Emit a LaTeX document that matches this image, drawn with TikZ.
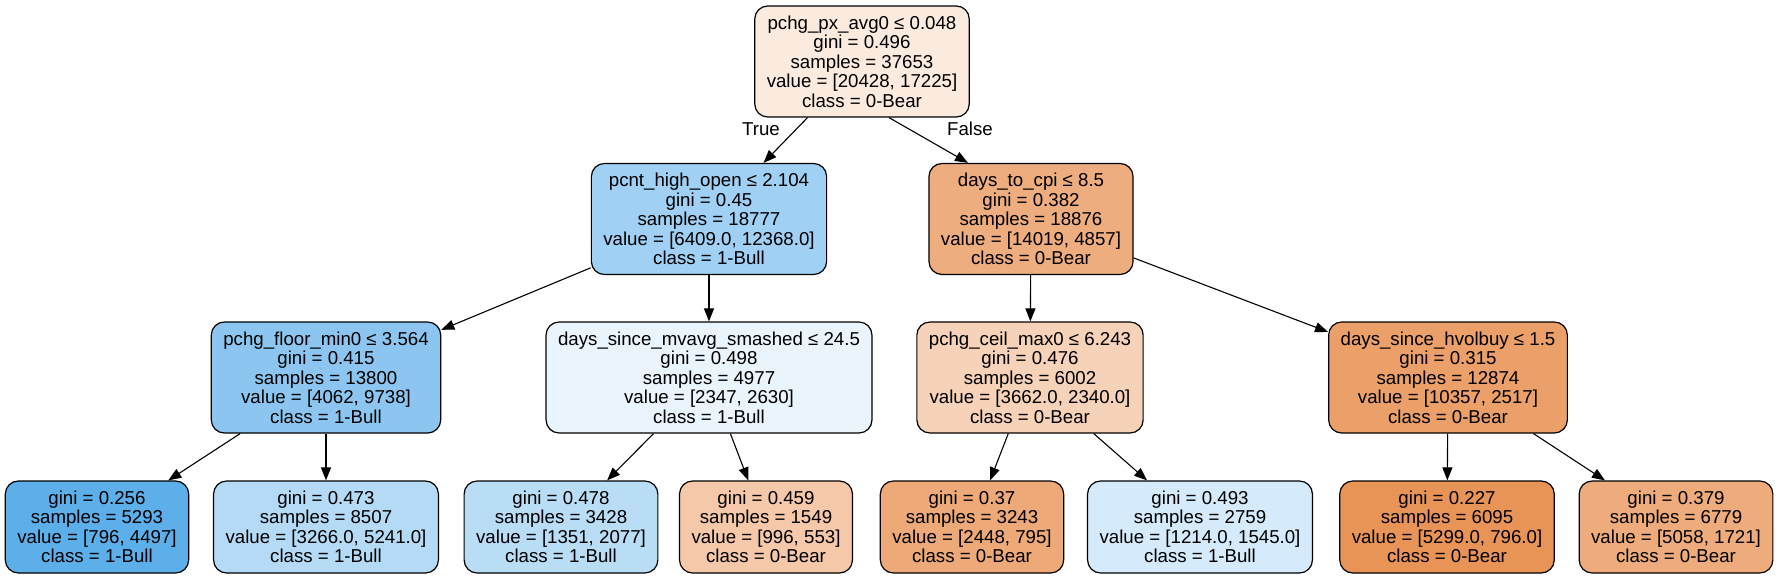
\documentclass[tikz,border=0pt]{standalone}
\usepackage{fontspec}
\setmainfont{Liberation Sans}
\usetikzlibrary{arrows.meta}
\definecolor{bearc}{HTML}{E58139}
\definecolor{bullc}{HTML}{399DE5}
\tikzset{
  treenode/.style={draw=black, line width=1.2pt, rounded corners=13pt, align=center,
    inner xsep=12pt, inner ysep=0pt, font=\fontsize{18.67pt}{19.5pt}\selectfont},
  splitnode/.style={treenode, minimum height=111pt},
  leafnode/.style={treenode, minimum height=92pt},
  treeedge/.style={line width=1.1pt, -{Triangle[length=13pt,width=10pt]}},
  edgelabel/.style={font=\fontsize{18.67pt}{19.5pt}\selectfont}
}
\begin{document}
\begin{tikzpicture}[x=1pt,y=-1pt]
  \useasboundingbox (0,0) rectangle (1779,577);

  % splits
  \node[splitnode, fill=bearc!16!white] (root) at (862,61.5)
    {pchg\_px\_avg0 ≤ 0.048\\gini = 0.496\\samples = 37653\\value = [20428, 17225]\\class = 0-Bear};
  \node[splitnode, fill=bullc!48!white] (hopen) at (709,219)
    {pcnt\_high\_open ≤ 2.104\\gini = 0.45\\samples = 18777\\value = [6409.0, 12368.0]\\class = 1-Bull};
  \node[splitnode, fill=bearc!65!white] (cpi) at (1031,219)
    {days\_to\_cpi ≤ 8.5\\gini = 0.382\\samples = 18876\\value = [14019, 4857]\\class = 0-Bear};
  \node[splitnode, fill=bullc!58!white] (floor) at (326,377.5)
    {pchg\_floor\_min0 ≤ 3.564\\gini = 0.415\\samples = 13800\\value = [4062, 9738]\\class = 1-Bull};
  \node[splitnode, fill=bullc!11!white] (mvavg) at (709,377.5)
    {days\_since\_mvavg\_smashed ≤ 24.5\\gini = 0.498\\samples = 4977\\value = [2347, 2630]\\class = 1-Bull};
  \node[splitnode, fill=bearc!36!white] (ceil) at (1030,377.5)
    {pchg\_ceil\_max0 ≤ 6.243\\gini = 0.476\\samples = 6002\\value = [3662.0, 2340.0]\\class = 0-Bear};
  \node[splitnode, fill=bearc!76!white] (hvol) at (1448,377.5)
    {days\_since\_hvolbuy ≤ 1.5\\gini = 0.315\\samples = 12874\\value = [10357, 2517]\\class = 0-Bear};

  % leaves
  \node[leafnode, fill=bullc!82!white] (leafa) at (97,527)
    {gini = 0.256\\samples = 5293\\value = [796, 4497]\\class = 1-Bull};
  \node[leafnode, fill=bullc!38!white] (leafb) at (326,527)
    {gini = 0.473\\samples = 8507\\value = [3266.0, 5241.0]\\class = 1-Bull};
  \node[leafnode, fill=bullc!35!white] (leafc) at (561,527)
    {gini = 0.478\\samples = 3428\\value = [1351, 2077]\\class = 1-Bull};
  \node[leafnode, fill=bearc!44!white] (leafd) at (766,527)
    {gini = 0.459\\samples = 1549\\value = [996, 553]\\class = 0-Bear};
  \node[leafnode, fill=bearc!68!white] (leafe) at (972,527)
    {gini = 0.37\\samples = 3243\\value = [2448, 795]\\class = 0-Bear};
  \node[leafnode, fill=bullc!21!white] (leaff) at (1200,527)
    {gini = 0.493\\samples = 2759\\value = [1214.0, 1545.0]\\class = 1-Bull};
  \node[leafnode, fill=bearc!85!white] (leafg) at (1447,527)
    {gini = 0.227\\samples = 6095\\value = [5299.0, 796.0]\\class = 0-Bear};
  \node[leafnode, fill=bearc!66!white] (leafh) at (1676,527)
    {gini = 0.379\\samples = 6779\\value = [5058, 1721]\\class = 0-Bear};

  % edges
  \draw[treeedge] (root) -- (hopen);
  \draw[treeedge] ([xshift=27pt]root.south) -- ([xshift=-63pt]cpi.north);
  \draw[treeedge] (hopen) -- (floor);
  \draw[treeedge] (hopen) -- (mvavg);
  \draw[treeedge] (cpi) -- (ceil);
  \draw[treeedge] (cpi) -- (hvol);
  \draw[treeedge] (floor) -- (leafa);
  \draw[treeedge] (floor) -- (leafb);
  \draw[treeedge] (mvavg) -- (leafc);
  \draw[treeedge] (mvavg) -- (leafd);
  \draw[treeedge] (ceil) -- (leafe);
  \draw[treeedge] (ceil) -- (leaff);
  \draw[treeedge] (hvol) -- (leafg);
  \draw[treeedge] (hvol) -- (leafh);

  \node[edgelabel] (truelbl) at (761,129) {True};
  \node[edgelabel] (falselbl) at (970,129) {False};
\end{tikzpicture}
\end{document}
